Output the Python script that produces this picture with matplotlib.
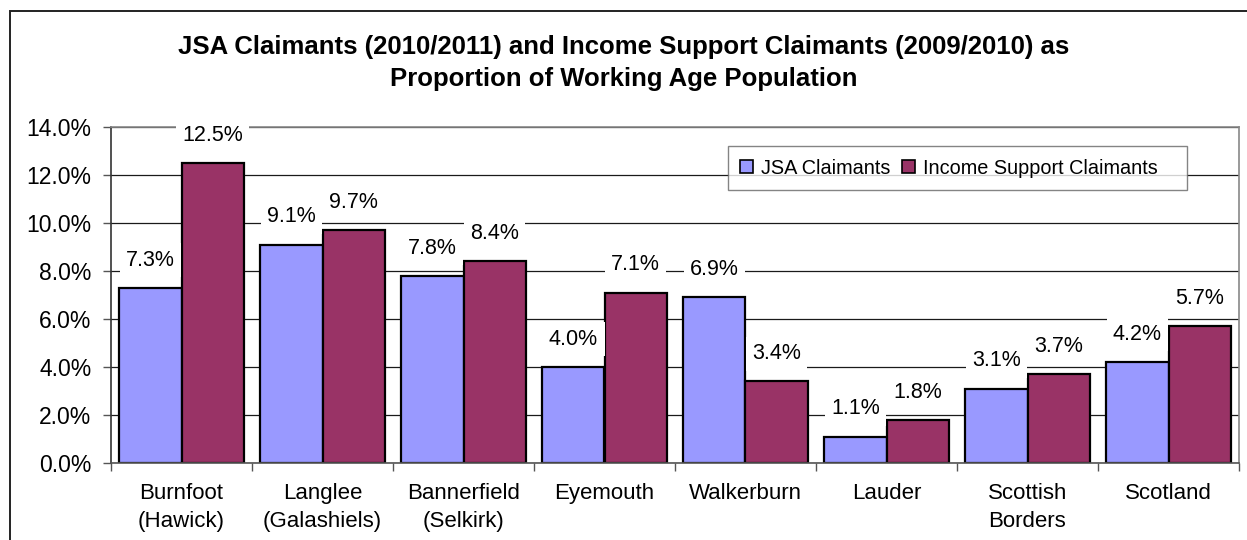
import matplotlib
matplotlib.use("Agg")
import matplotlib.pyplot as plt
import numpy as np
from matplotlib.patches import Rectangle
from matplotlib.ticker import FuncFormatter, FixedLocator

plt.rcParams['font.family'] = ['Liberation Sans', 'DejaVu Sans']

categories = ["Burnfoot\n(Hawick)", "Langlee\n(Galashiels)", "Bannerfield\n(Selkirk)",
              "Eyemouth", "Walkerburn", "Lauder", "Scottish\nBorders", "Scotland"]
jsa = [7.3, 9.1, 7.8, 4.0, 6.9, 1.1, 3.1, 4.2]
income_support = [12.5, 9.7, 8.4, 7.1, 3.4, 1.8, 3.7, 5.7]
series_names = ["JSA Claimants", "Income Support Claimants"]
y_ticks = [0, 2, 4, 6, 8, 10, 12, 14]

W, H = 1247, 540
fig = plt.figure(figsize=(W / 100, H / 100), dpi=100)

# outer chart border (runs off the right and bottom edges)
fig.patches.append(Rectangle((10 / W, -0.1), 1.2, (H - 11) / H + 0.1,
                             transform=fig.transFigure, fill=False,
                             edgecolor='#222222', linewidth=1.4, zorder=0))

ax = fig.add_axes([111 / W, (H - 463) / H, (1239 - 111) / W, (463 - 127) / H])

x = np.arange(len(categories))
bw = 0.44
bars1 = ax.bar(x - bw / 2, jsa, bw, color='#9999FF', edgecolor='black',
               linewidth=1.6, label=series_names[0], zorder=2)
bars2 = ax.bar(x + bw / 2, income_support, bw, color='#993366', edgecolor='black',
               linewidth=1.6, label=series_names[1], zorder=2)

ax.set_xlim(-0.5, len(categories) - 0.5)
ax.set_ylim(0, 14)
ax.yaxis.set_major_locator(FixedLocator(y_ticks))
ax.yaxis.set_major_formatter(FuncFormatter(lambda v, p: f"{v:.1f}%"))
ax.yaxis.grid(True, color='#1a1a1a', linewidth=0.9, zorder=0)
ax.set_axisbelow(True)

ax.set_xticks(x)
ax.set_xticklabels(categories, fontsize=16, linespacing=1.46)
ax.set_xticks(np.arange(len(categories) + 1) - 0.5, minor=True)
ax.tick_params(axis='x', which='major', length=0, pad=14.5)
ax.tick_params(axis='x', which='minor', length=6, width=1, color='#555555', direction='out')
ax.tick_params(axis='y', length=6, width=1, color='#555555', pad=8, labelsize=16.5)

for side in ['top', 'right']:
    ax.spines[side].set_color('#888888')
    ax.spines[side].set_linewidth(1.2)
ax.spines['left'].set_color('#333333')
ax.spines['bottom'].set_color('#555555')
for side in ['left', 'bottom']:
    ax.spines[side].set_linewidth(1.2)

for bars, vals in ((bars1, jsa), (bars2, income_support)):
    for b, v in zip(bars, vals):
        ax.annotate(f"{v:.1f}%", (b.get_x() + b.get_width() / 2, v),
                    xytext=(0, 20), textcoords='offset points',
                    ha='center', va='center', fontsize=15.5, zorder=5,
                    bbox=dict(boxstyle='square,pad=0.3', fc='white', ec='none'))

leg = ax.legend(loc='upper left', bbox_to_anchor=(0.547, 0.942), borderaxespad=0,
                ncol=2, fontsize=14.3, frameon=True, fancybox=False,
                handlelength=0.65, handleheight=0.65, handletextpad=0.4,
                columnspacing=0.6, borderpad=0.62)
leg.texts[1].set_text(series_names[1] + "   ")
leg.get_frame().set_edgecolor('#666666')
leg.get_frame().set_linewidth(1.0)
leg.set_zorder(6)
for h in leg.legend_handles:
    h.set_linewidth(1.2)

fig.text(624 / W, 1 - 47 / H,
         "JSA Claimants (2010/2011) and Income Support Claimants (2009/2010) as",
         ha='center', va='center', fontsize=18.5, fontweight='bold')
fig.text(624 / W, 1 - 79 / H, "Proportion of Working Age Population",
         ha='center', va='center', fontsize=18.5, fontweight='bold')

fig.savefig("out.png", dpi=100)
